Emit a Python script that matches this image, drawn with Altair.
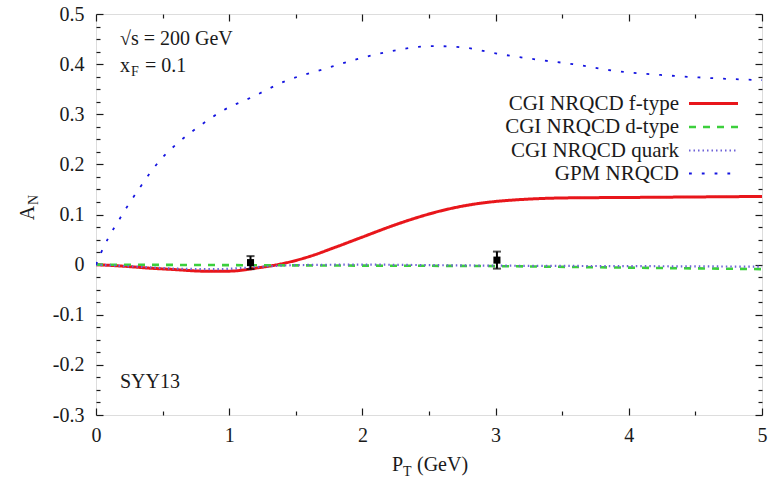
import altair as alt
import pandas as pd

FONT = "Liberation Serif"
INK = "#1a1a1a"

# ---- model curves: A_N versus P_T (GeV) ----
ftype_pt = [0, 0.2, 0.4, 0.6, 0.8, 1.0, 1.2, 1.4, 1.6, 1.8, 2.0, 2.2, 2.4, 2.6, 2.8, 3.0, 3.2, 3.5, 4.0, 4.5, 5.0]
ftype_an = [0, -0.003, -0.007, -0.010, -0.013, -0.013, -0.007, 0.002, 0.016, 0.035, 0.055, 0.075, 0.093,
            0.108, 0.119, 0.126, 0.130, 0.133, 0.134, 0.135, 0.136]

dtype_pt = [0, 1.0, 2.0, 3.0, 4.0, 5.0]
dtype_an = [0, -0.001, -0.002, -0.003, -0.006, -0.009]

quark_pt = [0, 0.3, 0.6, 0.9, 1.2, 1.5, 2.0, 2.5, 3.0, 4.0, 5.0]
quark_an = [0, -0.004, -0.008, -0.009, -0.005, -0.001, 0.0, -0.001, -0.002, -0.003, -0.004]

gpm_pt = [0, 0.04, 0.09, 0.17, 0.23, 0.33, 0.42, 0.5, 0.62, 0.78, 0.95, 1.17, 1.43, 1.71, 1.96,
          2.18, 2.53, 2.73, 3.03, 3.31, 3.58, 3.88, 4.26, 4.63, 5.0]
gpm_an = [0, 0.025, 0.052, 0.088, 0.114, 0.154, 0.188, 0.214, 0.244, 0.277, 0.307, 0.334, 0.367, 0.39,
          0.41, 0.424, 0.436, 0.434, 0.42, 0.409, 0.40, 0.387, 0.378, 0.372, 0.368]

series_names = ["CGI NRQCD f-type", "CGI NRQCD d-type", "CGI NRQCD quark", "GPM NRQCD"]
series_colors = ["#e8161b", "#3ccf3c", "#6f63d8", "#1414e0"]
series_dashes = [[1, 0], [7, 7], [1.5, 3], [2.8, 10]]
series_widths = [3, 1.8, 1.3, 4]

# ---- measured points ----
meas_pt = [1.16, 3.01]
meas_an = [0.004, 0.009]
meas_err = [0.013, 0.017]

# ---- tick positions ----
x_major = [0, 1, 2, 3, 4, 5]
x_minor = [0.5, 1.5, 2.5, 3.5, 4.5]
y_major = [-0.3, -0.2, -0.1, 0, 0.1, 0.2, 0.3, 0.4, 0.5]
y_minor = [round(-0.3 + 0.025 * i, 3) for i in range(33) if i % 4]

curves = pd.concat([
    pd.DataFrame({"series": name, "pt": pts, "an": ans})
    for name, pts, ans in zip(series_names,
                              [ftype_pt, dtype_pt, quark_pt, gpm_pt],
                              [ftype_an, dtype_an, quark_an, gpm_an])
], ignore_index=True)

meas = pd.DataFrame({
    "pt": meas_pt,
    "an": meas_an,
    "lo": [a - e for a, e in zip(meas_an, meas_err)],
    "hi": [a + e for a, e in zip(meas_an, meas_err)],
})

xs = alt.Scale(domain=[0, 5], nice=False, zero=False)
ys = alt.Scale(domain=[-0.3, 0.5], nice=False, zero=False)

MAJOR, MINOR = 7, 4


def frame_axis(orient, values, size, labels=False, pad=0):
    """Inward-pointing ticks: the axis is pulled inside the frame by its tick length."""
    opts = dict(orient=orient, values=values, tickSize=size, offset=-size, domain=False,
                grid=False, title=None, tickColor=INK, tickWidth=1.2, labels=labels)
    if labels:
        opts.update(labelExpr="'' + datum.value", labelPadding=pad, labelFont=FONT,
                    labelFontSize=20, labelColor=INK, labelFlush=False)
    return alt.Axis(**opts)


# legend text sits to the left of a long line sample; the sample is a custom path
# wider than the nominal symbol box so the rows stay compact
legend = alt.Legend(
    orient="none", legendX=606, legendY=78, title=None, padding=0,
    symbolType="M-2.45,0H2.45", symbolSize=400, labelAlign="right",
    labelOffset=alt.ExprRef(expr="-46"),
    labelFont=FONT, labelFontSize=21, labelColor=INK, labelLimit=400,
    rowPadding=1.5,
)

lines = alt.Chart(curves).mark_line(interpolate="monotone", clip=True).encode(
    x=alt.X("pt:Q", scale=xs, axis=frame_axis("bottom", x_major, MAJOR, True, 10)),
    y=alt.Y("an:Q", scale=ys, axis=frame_axis("left", y_major, MAJOR, True, 12)),
    color=alt.Color("series:N", scale=alt.Scale(domain=series_names, range=series_colors), legend=legend),
    strokeDash=alt.StrokeDash("series:N", scale=alt.Scale(domain=series_names, range=series_dashes), legend=legend),
    strokeWidth=alt.StrokeWidth("series:N", scale=alt.Scale(domain=series_names, range=series_widths), legend=legend),
)

bars = alt.Chart(meas).mark_rule(color="black", strokeWidth=2).encode(
    x=alt.X("pt:Q", scale=xs, axis=frame_axis("bottom", x_minor, MINOR)),
    y=alt.Y("lo:Q", scale=ys, axis=frame_axis("left", y_minor, MINOR)),
    y2="hi:Q",
)

caps = alt.Chart(meas).transform_fold(["lo", "hi"], as_=["end", "val"]).mark_tick(
    orient="horizontal", size=8, thickness=2, color="black"
).encode(
    x=alt.X("pt:Q", scale=xs, axis=frame_axis("top", x_major, MAJOR)),
    y=alt.Y("val:Q", scale=ys, axis=frame_axis("right", y_major, MAJOR)),
)

markers = alt.Chart(meas).mark_square(size=50, color="black", opacity=1).encode(
    x=alt.X("pt:Q", scale=xs, axis=frame_axis("top", x_minor, MINOR)),
    y=alt.Y("an:Q", scale=ys, axis=frame_axis("right", y_minor, MINOR)),
)


def label(text, x, y, size=20, align="left", angle=0):
    return alt.Chart(pd.DataFrame({"t": [text]})).mark_text(
        font=FONT, fontSize=size, color=INK, align=align, baseline="alphabetic", angle=angle
    ).encode(x=alt.value(x), y=alt.value(y), text="t:N")


texts = [
    label("√s = 200 GeV", 24, 31),
    label("x", 24, 58),
    label("F", 35, 62, size=14),
    label("= 0.1", 49, 58),
    label("SYY13", 24, 374),
    # x-axis title P_T (GeV)
    label("P", 296, 457),
    label("T", 307, 462, size=14),
    label("(GeV)", 321, 457),
    # y-axis title A_N
    label("A", -62, 199, align="center", angle=270),
    label("N", -58, 186, size=14, align="center", angle=270),
]

chart = alt.layer(lines, bars, caps, markers, *texts).resolve_axis(
    x="independent", y="independent"
).resolve_scale(
    x="shared", y="shared"
).properties(
    width=666, height=401,
    padding={"left": 96, "top": 14, "right": 14, "bottom": 66},
    autosize=alt.AutoSizeParams(type="none"),
).configure_view(
    stroke="black", strokeWidth=1.5
).configure(background="white")

chart.save("out.html", embed_options={"renderer": "svg", "actions": False})
